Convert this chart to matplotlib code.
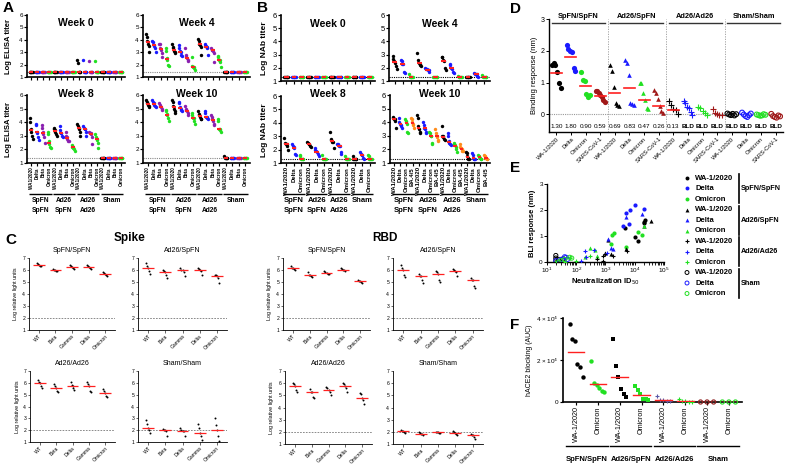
import matplotlib
matplotlib.use('Agg')
import matplotlib.pyplot as plt
import numpy as np

plt.rcParams['font.family'] = ['Liberation Sans', 'DejaVu Sans']

W, H = 785, 465
fig = plt.figure(figsize=(7.85, 4.65), dpi=100)

# ---------------- data ----------------
groups4 = ['SpFN\nSpFN', 'Ad26\nSpFN', 'Ad26\nAd26', 'Sham']

# A: ELISA, 4 groups x (WA1/2020, Delta, Beta, Omicron)
a_vars = ['WA1/2020', 'Delta', 'Beta', 'Omicron']
a_lod = 1.4
lodA = [1.4, 1.4, 1.4, 1.4, 1.4, 1.4]
a_week0 = [lodA, lodA, lodA, lodA,
           lodA, lodA, lodA, lodA,
           [2.35, 2.1, 1.4, 1.4, 1.4, 1.4], [2.4, 1.4, 1.4, 1.4, 1.4, 1.4],
           [2.3, 1.4, 1.4, 1.4, 1.4, 1.4], [2.3, 1.4, 1.4, 1.4, 1.4, 1.4],
           lodA, lodA, lodA, lodA]
a_week4 = [[4.5, 4.2, 3.9, 3.7, 3.5, 3.0], [3.9, 3.8, 3.6, 3.5, 3.3, 3.0],
           [3.7, 3.7, 3.3, 3.2, 2.9, 2.6], [3.3, 3.1, 2.5, 2.4, 2.0, 1.9],
           [3.7, 3.4, 3.3, 3.1, 3.0, 2.9], [3.6, 3.3, 3.1, 3.0, 2.8, 2.7],
           [3.3, 2.8, 2.6, 2.5, 2.4, 2.3], [2.6, 1.9, 1.8, 1.8, 1.7, 1.6],
           [4.1, 3.9, 3.7, 3.6, 3.4, 2.8], [3.7, 3.5, 3.5, 3.4, 3.3, 2.8],
           [3.3, 3.2, 3.2, 3.1, 2.9, 2.2], [2.7, 2.6, 2.4, 2.4, 2.2, 1.8],
           lodA, lodA, lodA, lodA]
a_week8 = [[4.3, 4.0, 3.5, 3.3, 3.0, 2.8], [3.9, 3.8, 3.3, 3.2, 2.9, 2.7],
           [3.8, 3.6, 3.3, 3.1, 2.9, 2.5], [3.3, 3.1, 2.6, 2.4, 2.2, 2.1],
           [3.6, 3.5, 3.4, 3.3, 3.1, 3.0], [3.7, 3.4, 3.2, 3.2, 3.0, 2.9],
           [3.3, 3.0, 2.9, 2.8, 2.6, 2.6], [2.3, 2.2, 2.2, 2.1, 2.0, 1.9],
           [3.9, 3.7, 3.6, 3.5, 3.3, 3.0], [3.7, 3.6, 3.5, 3.5, 3.3, 3.0],
           [3.3, 3.2, 3.2, 3.1, 2.9, 2.4], [3.1, 2.9, 2.8, 2.7, 2.5, 2.1],
           lodA, lodA, lodA, lodA]
a_week10 = [[5.6, 5.5, 5.4, 5.3, 5.2, 5.1], [5.6, 5.5, 5.4, 5.3, 5.2, 5.1],
            [5.4, 5.3, 5.2, 5.1, 5.0, 4.9], [4.9, 4.8, 4.6, 4.5, 4.3, 4.1],
            [5.6, 5.5, 5.2, 5.0, 4.8, 4.7], [5.5, 5.4, 5.1, 5.0, 4.9, 4.8],
            [5.2, 5.0, 4.9, 4.8, 4.7, 4.5], [4.7, 4.5, 4.3, 4.3, 4.1, 3.9],
            [4.8, 4.6, 4.5, 4.4, 4.2, 4.2], [4.8, 4.7, 4.4, 4.4, 4.3, 4.2],
            [4.5, 4.4, 4.2, 4.1, 3.9, 3.8], [4.2, 4.1, 3.5, 3.5, 3.4, 3.3],
            [1.5, 1.4, 1.4, 1.4, 1.4, 1.4], lodA, lodA, lodA]
a_colors = ['#000000', '#1a1aff', '#8a1fb0', '#22e022']

# B: NAb titers
b_vars = ['WA1/2020', 'Delta', 'Omicron']
b_vars10 = ['WA1/2020', 'Delta', 'Omicron', 'BA.4/5']
b_lod = 1.3
lodB = [1.3, 1.3, 1.3, 1.3, 1.3, 1.3]
b_week0 = [lodB] * 12
b_week4 = [[2.9, 2.7, 2.5, 2.4, 2.1, 1.9], [2.6, 2.5, 2.3, 2.3, 1.7, 1.6], [1.55, 1.3, 1.3, 1.3, 1.3, 1.3],
           [3.1, 2.6, 2.4, 2.3, 2.2, 2.1], [2.0, 1.9, 1.9, 1.8, 1.8, 1.7], [1.3, 1.3, 1.3, 1.3, 1.3, 1.3],
           [2.8, 2.8, 2.6, 2.5, 2.0, 1.8], [2.3, 2.2, 2.0, 1.9, 1.7, 1.6], [1.4, 1.3, 1.3, 1.3, 1.3, 1.3],
           [1.3, 1.3, 1.3, 1.3, 1.3, 1.3], [1.6, 1.55, 1.5, 1.5, 1.4, 1.3], [1.45, 1.3, 1.3, 1.3, 1.3, 1.3]]
b_week8 = [[2.9, 2.5, 2.4, 2.4, 2.3, 2.0], [2.4, 2.3, 2.2, 2.1, 1.7, 1.6], [1.6, 1.5, 1.3, 1.3, 1.3, 1.3],
           [2.6, 2.5, 2.4, 2.4, 2.3, 2.2], [2.1, 2.0, 1.9, 1.8, 1.7, 1.5], [1.6, 1.3, 1.3, 1.3, 1.3, 1.3],
           [3.3, 2.8, 2.7, 2.6, 2.6, 2.1], [2.4, 2.4, 2.3, 2.3, 1.8, 1.7], [1.5, 1.3, 1.3, 1.3, 1.3, 1.3],
           [1.5, 1.3, 1.3, 1.3, 1.3, 1.3], [1.8, 1.7, 1.6, 1.6, 1.4, 1.3], [1.6, 1.5, 1.3, 1.3, 1.3, 1.3]]
b_week10 = [[4.35, 4.3, 4.25, 4.2, 4.1, 3.6], [4.3, 4.0, 3.9, 3.8, 3.7, 3.6],
            [4.2, 4.1, 4.0, 3.9, 3.3, 3.2], [4.3, 4.2, 4.0, 3.9, 3.8, 3.6],
            [4.55, 4.3, 3.7, 3.5, 3.3, 3.2], [4.0, 3.8, 3.6, 3.5, 3.3, 3.2],
            [3.3, 3.2, 3.0, 3.0, 2.5, 2.4], [3.5, 3.2, 3.0, 2.9, 2.7, 2.6],
            [3.75, 3.0, 2.95, 2.9, 2.8, 2.7], [3.2, 3.0, 2.6, 2.5, 2.4, 2.3],
            [2.5, 2.4, 2.3, 2.2, 2.0, 1.8], [2.4, 2.2, 2.1, 2.0, 1.9, 1.9],
            [1.8, 1.7, 1.5, 1.4, 1.3, 1.3], [1.7, 1.6, 1.4, 1.3, 1.3, 1.3],
            [1.6, 1.5, 1.45, 1.4, 1.3, 1.3], [1.6, 1.5, 1.4, 1.4, 1.3, 1.3]]
b_colors = ['#000000', '#1a1aff', '#22e022']
b_colors10 = ['#000000', '#1a1aff', '#22e022', '#ff8c1a']

# C: log relative light units
c_vars_top = ['WT', 'Beta', 'Gamma', 'Delta', 'Omicron']
c_vars_spike_bot = ['WT', 'Beta', 'Delta', 'Gamma', 'Omicron']
spike_spfn = [[6.6, 6.5, 6.4, 6.3, 6.3], [6.1, 6.0, 6.0, 5.9, 5.9], [6.4, 6.3, 6.25, 6.2, 6.1],
              [6.4, 6.3, 6.25, 6.2, 6.1], [5.8, 5.75, 5.7, 5.6, 5.5]]
spike_ad26spfn = [[6.6, 6.3, 6.2, 5.9, 5.7], [6.0, 5.9, 5.85, 5.6, 5.3], [6.2, 6.0, 6.0, 5.8, 5.5],
                  [6.2, 6.1, 6.0, 5.9, 5.6], [5.6, 5.55, 5.5, 5.3, 4.9]]
spike_ad26 = [[6.2, 6.1, 5.95, 5.7, 5.6], [5.9, 5.7, 5.55, 5.3, 5.2], [6.1, 5.8, 5.7, 5.6, 5.4],
              [6.1, 5.9, 5.75, 5.3, 5.2], [5.5, 5.3, 5.1, 4.9, 4.8]]
spike_sham = [[2.9, 2.5, 2.2, 2.0, 1.8], [2.1, 2.0, 2.0, 1.9, 1.5], [2.2, 2.0, 1.95, 1.9, 1.5],
              [2.5, 2.2, 1.8, 1.5, 1.2], [3.0, 2.4, 2.0, 1.5, 1.1]]
rbd_spfn = [[6.3, 6.2, 6.15, 6.1, 6.0], [5.8, 5.6, 5.6, 5.5, 5.4], [5.9, 5.8, 5.75, 5.7, 5.7],
            [6.2, 6.1, 6.0, 6.0, 5.9], [5.2, 5.1, 5.1, 5.0, 4.9]]
rbd_ad26spfn = [[6.4, 6.2, 6.0, 5.6, 5.4], [5.7, 5.5, 5.5, 5.2, 4.9], [5.9, 5.8, 5.7, 5.2, 5.0],
                [6.1, 6.0, 5.9, 5.8, 5.5], [5.3, 5.2, 5.15, 4.7, 4.5]]
rbd_ad26 = [[6.0, 5.9, 5.75, 5.4, 5.3], [5.5, 5.3, 5.25, 4.9, 4.8], [5.7, 5.6, 5.4, 5.3, 5.0],
            [6.0, 5.9, 5.75, 5.6, 5.3], [5.2, 5.1, 4.75, 4.6, 4.3]]
rbd_sham = [[2.15, 2.1, 2.05, 2.0, 1.9], [2.0, 1.9, 1.85, 1.8, 1.7], [2.0, 1.95, 1.95, 1.9, 1.9],
            [2.1, 2.0, 1.9, 1.8, 1.7], [1.8, 1.75, 1.7, 1.6, 1.4]]

# D: BLI binding response (nm)
d_vars = ['WA-1/2020', 'Delta', 'Omicron', 'SARS-CoV-1']
d_groups = ['SpFN/SpFN', 'Ad26/SpFN', 'Ad26/Ad26', 'Sham/Sham']
d_vals = [[1.57, 1.63, 1.55, 1.32, 1.0, 0.83], [2.18, 2.05, 1.98, 1.95, 1.45, 1.37],
          [1.35, 1.08, 1.05, 0.63, 0.55, 0.6], [0.75, 0.73, 0.68, 0.62, 0.55, 0.45, 0.4],
          [1.57, 1.37, 0.87, 0.35, 0.3, 0.28], [1.7, 1.62, 1.25, 0.35, 0.33, 0.3],
          [1.0, 1.0, 0.68, 0.45, 0.2, 0.18], [0.78, 0.68, 0.5, 0.26, 0.1, 0.05],
          [0.42, 0.3, 0.18, 0.15, 0.02], [0.43, 0.35, 0.25, 0.2, 0.08, -0.02],
          [0.25, 0.2, 0.1, 0.05, -0.02], [0.18, 0.05, 0.0, -0.02, -0.03],
          [0.03, 0.0, -0.02, 0.02, -0.03, 0.01], [0.06, 0.0, -0.05, -0.08, -0.02, 0.03],
          [0.0, -0.02, -0.04, -0.03, 0.01, -0.01], [0.02, -0.05, -0.08, -0.1, -0.03, -0.06]]
d_means = ['1.30', '1.80', '0.90', '0.59', '0.69', '0.83', '0.47', '0.26',
           '0.13', 'BLD', 'BLD', 'BLD', 'BLD', 'BLD', 'BLD', 'BLD']
d_colors = ['#000000', '#1a1aff', '#22e022', '#a01818']

# E: BLI response vs neutralization ID50
e_labels = ['WA-1/2020', 'Delta', 'Omicron'] * 4
e_groups = ['SpFN/SpFN', 'Ad26/SpFN', 'Ad26/Ad26', 'Sham']
e_x = [[4500, 10000, 13000, 20000, 22000, 21000],
       [4000, 5000, 7000, 10000, 20000, 6500],
       [1500, 2000, 1700, 5000, 13000, 18000],
       [1200, 1500, 5000, 20000, 35000, 1000],
       [1200, 1800, 5000, 18000, 1500],
       [300, 450, 500, 200, 20000],
       [500, 800, 1000, 1800, 5500, 800],
       [200, 400, 210, 1100, 150],
       [100, 300, 60, 40, 20],
       [20, 20, 25, 35, 20],
       [45, 30, 50, 20, 40],
       [60, 40, 25, 30, 70]]
e_y = [[1.3, 0.95, 0.8, 1.5, 1.6, 1.55],
       [1.38, 1.9, 2.0, 2.2, 2.05, 1.45],
       [0.7, 1.1, 1.05, 0.57, 1.15, 1.02],
       [0.85, 0.3, 0.5, 1.4, 1.57, 0.35],
       [0.9, 0.5, 1.75, 1.85, 0.55],
       [0.55, 0.45, 0.25, 0.18, 1.38],
       [0.12, 0.22, 0.3, 0.25, 0.42, 0.05],
       [0.42, 0.45, 0.2, 0.35, 0.05],
       [0.05, 0.25, 0.15, 0.0, 0.02],
       [0.25, 0.15, 0.1, 0.12, 0.05],
       [0.18, 0.1, 0.1, 0.05, 0.2],
       [0.18, 0.1, 0.0, 0.05, 0.15]]
e_colors = ['#000000', '#1a1aff', '#22e022'] * 4
e_markers = ['o'] * 3 + ['^'] * 3 + ['+'] * 3 + ['o'] * 3

# F: hACE2 blocking (AUC)
f_vars = ['WA-1/2020', 'Omicron'] * 4
f_groups = ['SpFN/SpFN', 'Ad26/SpFN', 'Ad26/Ad26', 'Sham']
f_vals = [[37000, 30000, 29000, 18000, 16500, 12000],
          [19500, 9000, 8000, 6500, 5200, 4600],
          [30000, 17000, 12000, 6000, 3600, 2500],
          [7500, 5500, 4000, 1500, 1200, 1000],
          [2800, 1000, 800, 500, 300],
          [1500, 600, 300, 200, 100],
          [0, 0, 0],
          [0, 0, 0]]
f_colors = ['#000000', '#22e022', '#000000', '#22e022', '#5a5aa8', '#22e022', '#8b1a1a', '#22e022']
f_markers = ['o', 'o', 's', 's', '+', '+', 'o', 'o']

# ---------------- helpers ----------------
ov = fig.add_axes([0, 0, 1, 1], zorder=10)
ov.set_xlim(0, W)
ov.set_ylim(H, 0)
ov.axis('off')
ov.patch.set_alpha(0)


def px_axes(box):
    x0, y0, x1, y1 = box
    return fig.add_axes([x0 / W, 1 - y1 / H, (x1 - x0) / W, (y1 - y0) / H])


def to_px(box, xlim, x):
    return box[0] + (x - xlim[0]) / (xlim[1] - xlim[0]) * (box[2] - box[0])


def group_bars(box, xlim, names, n_per, y_line, y_txt, fs, lw=1.0):
    for g, name in enumerate(names):
        a = to_px(box, xlim, g * n_per - 0.4)
        b = to_px(box, xlim, (g + 1) * n_per - 0.6)
        ov.plot([a, b], [y_line, y_line], color='k', lw=lw, solid_capstyle='butt')
        ov.text((a + b) / 2, y_txt, name, ha='center', va='top', fontsize=fs,
                fontweight='bold', linespacing=1.5)


def dotplot(ax, data, colors, s=7, spread=0.3, med_w=0.32, lw_med=1.6, stat=np.median, marker='o'):
    for i, vals in enumerate(data):
        vals = np.asarray(vals, float)
        n = len(vals)
        offs = np.linspace(-spread, spread, n) if n > 1 else np.zeros(1)
        ax.scatter(i + offs, vals, s=s, color=colors[i % len(colors)], marker=marker,
                   linewidths=0, zorder=3)
        m = stat(vals)
        ax.plot([i - med_w, i + med_w], [m, m], color='#ff2020', lw=lw_med, zorder=4,
                solid_capstyle='butt')


def base_style(ax, lw=1.2):
    for sp in ['top', 'right']:
        ax.spines[sp].set_visible(False)
    for sp in ['left', 'bottom']:
        ax.spines[sp].set_linewidth(lw)
    ax.tick_params(length=2, width=lw * 0.7, pad=1, labelsize=4.5)


def titer_panel(box, data, colors, labels, lod, title, title_y, lodcolor, lab_fs=3.8):
    ax = px_axes(box)
    n = len(data)
    xlim = (-0.7, n - 0.3)
    dotplot(ax, data, colors, s=6, spread=0.25, med_w=0.3, lw_med=1.5)
    ax.set_xlim(*xlim)
    ax.set_ylim(1, 6)
    ax.set_yticks(range(1, 7))
    ax.axhline(lod, ls=(0, (1, 1)), color=lodcolor, lw=0.8, zorder=1)
    base_style(ax)
    ax.set_xticks(range(n))
    if labels is None:
        ax.set_xticklabels([])
    else:
        ax.set_xticklabels([labels[i % len(labels)] for i in range(n)], rotation=90,
                           fontsize=lab_fs, fontweight='bold')
    ov.text((box[0] + box[2]) / 2, title_y, title, ha='center', va='center',
            fontsize=7.5, fontweight='bold')
    return ax, xlim


# ---------------- panel A ----------------
boxes_a = [(27, 15, 125, 77), (143, 15, 250, 77), (27, 95, 125, 163), (143, 95, 250, 163)]
data_a = [a_week0, a_week4, a_week8, a_week10]
titles = ['Week 0', 'Week 4', 'Week 8', 'Week 10']
title_ys = [23, 23, 94, 94]
for k in range(4):
    ax, xl = titer_panel(boxes_a[k], data_a[k], a_colors, a_vars if k >= 2 else None,
                         a_lod, titles[k], title_ys[k], '#888888', lab_fs=3.3)
    if k >= 2:
        group_bars(boxes_a[k], xl, groups4, 4, 194, 197, 4.8)
for yc in [46, 129]:
    ov.text(9, yc, 'Log ELISA titer', rotation=90, ha='center', va='center', fontsize=5.5,
            fontweight='bold')

# ---------------- panel B ----------------
boxes_b = [(281, 15, 375, 81), (389, 15, 490, 81), (281, 96, 375, 163), (390, 95, 490, 163)]
data_b = [b_week0, b_week4, b_week8, b_week10]
for k in range(4):
    cols = b_colors10 if k == 3 else b_colors
    labs = b_vars10 if k == 3 else b_vars
    ax, xl = titer_panel(boxes_b[k], data_b[k], cols, labs if k >= 2 else None,
                         b_lod, titles[k], [24, 24, 94, 94][k], '#000000', lab_fs=4.3)
    ax.set_yticklabels(range(1, 7), fontsize=5.5)
    if k >= 2:
        group_bars(boxes_b[k], xl, groups4, len(labs), 194, 197, 5.5)
for yc in [48, 130]:
    ov.text(265, yc, 'Log NAb titer', rotation=90, ha='center', va='center', fontsize=6,
            fontweight='bold')

# ---------------- panel C ----------------
c_panels = [
    ((29, 258, 115, 330), spike_spfn, c_vars_top, 'SpFN/SpFN', True),
    ((138, 258, 227, 330), spike_ad26spfn, c_vars_top, 'Ad26/SpFN', False),
    ((30, 371, 115, 442), spike_ad26, c_vars_spike_bot, 'Ad26/Ad26', True),
    ((138, 371, 227, 442), spike_sham, c_vars_spike_bot, 'Sham/Sham', False),
    ((283, 258, 370, 330), rbd_spfn, c_vars_top, 'SpFN/SpFN', True),
    ((393, 258, 483, 330), rbd_ad26spfn, c_vars_top, 'Ad26/SpFN', False),
    ((285, 371, 372, 444), rbd_ad26, c_vars_top, 'Ad26/Ad26', True),
    ((393, 371, 483, 444), rbd_sham, c_vars_top, 'Sham/Sham', False),
]
for box, data, labs, ttl, ylab in c_panels:
    ax = px_axes(box)
    dotplot(ax, data, ['#000000'], s=2.0, spread=0.12, med_w=0.35, lw_med=0.9)
    ax.set_xlim(-0.6, 4.6)
    ax.set_ylim(1, 7)
    ax.set_yticks(range(1, 8))
    ax.axhline(2, ls=(0, (2, 1.5)), color='#777777', lw=0.6, zorder=1)
    base_style(ax, lw=0.6)
    ax.tick_params(labelsize=3.6, length=1.8)
    ax.set_xticks(range(5))
    ax.set_xticklabels(labs, rotation=45, ha='right', rotation_mode='anchor', fontsize=3.6)
    ov.text((box[0] + box[2]) / 2, box[1] - 8, ttl, ha='center', va='center', fontsize=5)
    if ylab:
        ov.text(box[0] - 13, (box[1] + box[3]) / 2, 'Log relative light units', rotation=90,
                ha='center', va='center', fontsize=3.9)
ov.text(130, 238, 'Spike', ha='center', va='center', fontsize=8.5, fontweight='bold')
ov.text(385, 238, 'RBD', ha='center', va='center', fontsize=8.5, fontweight='bold')

# ---------------- panel D ----------------
d_box = (549, 19, 783, 132)
ax = px_axes(d_box)
d_marks = ['o', '^', '+', 'o']
for i, vals in enumerate(d_vals):
    g = i // 4
    vals = np.asarray(vals)
    n = len(vals)
    offs = np.linspace(-0.3, 0.3, n)
    col = d_colors[i % 4]
    if g == 3:
        ax.scatter(i + offs, vals, s=12, facecolors='none', edgecolors=col, linewidths=0.8, zorder=3)
    elif g == 2:
        ax.scatter(i + offs, vals, s=14, color=col, marker='+', linewidths=0.8, zorder=3)
    else:
        ax.scatter(i + offs, vals, s=14 if g == 0 else 11, color=col, marker=d_marks[g],
                   linewidths=0, zorder=3)
    if d_means[i] != 'BLD':
        m = float(d_means[i])
        ax.plot([i - 0.38, i + 0.38], [m, m], color='#ff2020', lw=1.2, zorder=4)
    ax.text(i, -0.38, d_means[i], ha='center', va='center', fontsize=4.6,
            fontweight='bold' if d_means[i] == 'BLD' else 'normal')
ax.set_xlim(-0.5, 15.5)
ax.set_ylim(-0.55, 3)
ax.set_yticks([0, 1, 2, 3])
ax.axhline(0, ls=(0, (1, 1)), color='#999999', lw=0.8, zorder=1)
for xs in [3.5, 7.5, 11.5]:
    ax.axvline(xs, ls=(0, (1.5, 1.5)), color='#999999', lw=0.6)
base_style(ax, lw=1.0)
ax.tick_params(labelsize=5)
ax.set_xticks(range(16))
ax.set_xticklabels(d_vars * 4, rotation=45, ha='right', rotation_mode='anchor', fontsize=4.2)
ax.set_ylabel('Binding response (nm)', fontsize=5.5, labelpad=2)
d_xl = (-0.5, 15.5)
for g, name in enumerate(d_groups):
    a = to_px(d_box, d_xl, g * 4 - 0.3)
    b = to_px(d_box, d_xl, g * 4 + 3.3)
    ov.plot([a, b], [23, 23], color='#333333', lw=1.0)
    ov.text((a + b) / 2, 16, name, ha='center', va='center', fontsize=5.3, fontweight='bold')

# ---------------- panel E ----------------
e_box = (547, 184, 664, 262)
ax = px_axes(e_box)
for k in range(12):
    if k >= 9:
        ax.scatter(e_x[k], e_y[k], s=9, facecolors='none', edgecolors=e_colors[k],
                   linewidths=0.7, zorder=3)
    elif e_markers[k] == '+':
        ax.scatter(e_x[k], e_y[k], s=12, color=e_colors[k], marker='+', linewidths=0.8, zorder=3)
    else:
        ax.scatter(e_x[k], e_y[k], s=9, color=e_colors[k], marker=e_markers[k],
                   linewidths=0, zorder=3)
ax.set_xscale('log')
ax.set_xlim(10, 1e5)
ax.set_ylim(0, 3)
ax.set_yticks([0, 1, 2, 3])
base_style(ax, lw=1.0)
ax.tick_params(labelsize=4.6)
ax.set_xlabel('Neutralization ID$_{50}$', fontsize=5.5, labelpad=1, fontweight='bold')
ax.set_ylabel('BLI response (nm)', fontsize=5.5, labelpad=2, fontweight='bold')

# legend for E
for k in range(12):
    yk = 178 + k * 10.5
    if k >= 9:
        ov.scatter([687], [yk], s=8, facecolors='none', edgecolors=e_colors[k], linewidths=0.7)
    elif e_markers[k] == '+':
        ov.scatter([687], [yk], s=10, color=e_colors[k], marker='+', linewidths=0.8)
    else:
        ov.scatter([687], [yk], s=8, color=e_colors[k], marker=e_markers[k], linewidths=0)
    ov.text(695, yk, e_labels[k], ha='left', va='center', fontsize=5.5, fontweight='bold')
for g, name in enumerate(e_groups):
    ya = 178 + g * 31.5 - 4
    yb = 178 + g * 31.5 + 21 + 4
    ov.plot([739, 739], [ya, yb], color='k', lw=1.2)
    ov.text(741, (ya + yb) / 2, name, ha='left', va='center', fontsize=5.2, fontweight='bold')

# ---------------- panel F ----------------
f_box = (563, 318, 742, 402)
ax = px_axes(f_box)
for i, vals in enumerate(f_vals):
    vals = np.asarray(vals, float)
    n = len(vals)
    offs = np.linspace(-0.3, 0.3, n)
    if i >= 6:
        ax.scatter(i + offs, vals, s=9, facecolors='none', edgecolors=f_colors[i],
                   linewidths=0.8, zorder=3, clip_on=False)
    elif f_markers[i] == '+':
        ax.scatter(i + offs, vals, s=12, color=f_colors[i], marker='+', linewidths=0.8,
                   zorder=3, clip_on=False)
    else:
        ax.scatter(i + offs, vals, s=10, color=f_colors[i], marker=f_markers[i],
                   linewidths=0, zorder=3, clip_on=False)
    m = vals.mean()
    ax.plot([i - 0.38, i + 0.38], [m, m], color='#ff2020', lw=1.0, zorder=4)
ax.set_xlim(-0.6, 7.6)
ax.set_ylim(0, 4e4)
ax.set_yticks([0, 2e4, 4e4])
ax.set_yticklabels(['0', '2 × 10$^4$', '4 × 10$^4$'])
base_style(ax, lw=1.2)
ax.tick_params(labelsize=4.6)
ax.set_xticks(range(8))
ax.set_xticklabels(f_vars, rotation=90, fontsize=5.2)
ax.set_ylabel('hACE2 blocking (AUC)', fontsize=5, labelpad=2)
f_xl = (-0.6, 7.6)
for g, name in enumerate(f_groups):
    a = to_px(f_box, f_xl, g * 2 - 0.45)
    b = to_px(f_box, f_xl, g * 2 + 1.45)
    ov.plot([a, b], [446, 446], color='k', lw=1.0)
    ov.text((a + b) / 2, 459, name, ha='center', va='center', fontsize=5.5, fontweight='bold')

# ---------------- panel letters ----------------
for lt, x, y in [('A', 3, 8), ('B', 257, 8), ('C', 5, 240), ('D', 510, 9), ('E', 510, 168), ('F', 510, 325)]:
    ov.text(x, y, lt, ha='left', va='center', fontsize=11, fontweight='bold')

fig.savefig('out.png', dpi=100)
